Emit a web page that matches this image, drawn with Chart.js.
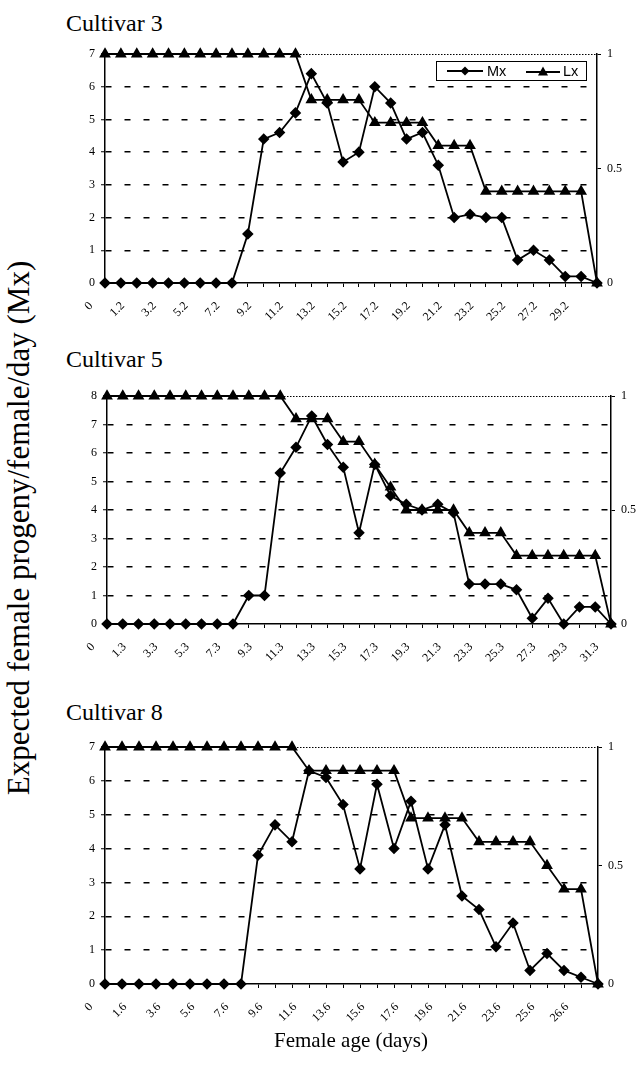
<!DOCTYPE html>
<html>
<head>
<meta charset="utf-8">
<script src="https://cdn.jsdelivr.net/npm/chart.js@4.4.1/dist/chart.umd.min.js"></script>
<style>
body { margin:0; background:#fff; width:641px; height:1077px; position:relative; overflow:hidden; font-family:"Liberation Serif", serif; color:#000; }
canvas { position:absolute; left:60px; }
.cult { position:absolute; left:66px; font-size:24px; line-height:24px; white-space:nowrap; }
.ytitle { position:absolute; left:18px; top:528px; transform:translate(-50%,-50%) rotate(-90deg); white-space:nowrap; font-size:31px; line-height:31px; }
.xtitle { position:absolute; left:351px; top:1040px; transform:translate(-50%,-50%); white-space:nowrap; font-size:21px; line-height:21px; }
#legend { position:absolute; left:436px; top:61px; width:149px; height:18px; border:1.5px solid #000; font-family:"Liberation Sans", sans-serif; font-size:14.5px; }
#legend svg, #legend span { position:absolute; }
</style>
</head>
<body>

<div class="cult" style="top:11px">Cultivar 3</div>
<canvas id="c3" width="581" height="300" style="top:40px"></canvas>

<div class="cult" style="top:347px">Cultivar 5</div>
<canvas id="c5" width="581" height="300" style="top:382px"></canvas>

<div class="cult" style="top:700px">Cultivar 8</div>
<canvas id="c8" width="581" height="300" style="top:733px"></canvas>

<div id="legend">
  <svg style="left:10px;top:3px" width="36" height="12"><line x1="0" y1="6" x2="36" y2="6" stroke="#000" stroke-width="1.8"/><polygon points="18,1.5 22.5,6 18,10.5 13.5,6" fill="#000"/></svg>
  <span style="left:50px;top:1px">Mx</span>
  <svg style="left:89px;top:3px" width="34" height="12"><line x1="0" y1="7" x2="34" y2="7" stroke="#000" stroke-width="1.8"/><polygon points="17,1.5 22,10.5 12,10.5" fill="#000"/></svg>
  <span style="left:126px;top:1px">Lx</span>
</div>

<div class="ytitle">Expected female progeny/female/day (Mx)</div>
<div class="xtitle">Female age (days)</div>

<script>
// Cultivar 3
var ages3 = ['0','0.2','1.2','2.2','3.2','4.2','5.2','6.2','7.2','8.2','9.2','10.2','11.2','12.2','13.2','14.2','15.2','16.2','17.2','18.2','19.2','20.2','21.2','22.2','23.2','24.2','25.2','26.2','27.2','28.2','29.2','30.2'];
var mx3 = [0,0,0,0,0,0,0,0,0,1.5,4.4,4.6,5.2,6.4,5.5,3.7,4.0,6.0,5.5,4.4,4.6,3.6,2.0,2.1,2.0,2.0,0.7,1.0,0.7,0.2,0.2,0];
var lx3 = [1,1,1,1,1,1,1,1,1,1,1,1,1,0.8,0.8,0.8,0.8,0.7,0.7,0.7,0.7,0.6,0.6,0.6,0.4,0.4,0.4,0.4,0.4,0.4,0.4,0];

// Cultivar 5
var ages5 = ['0','0.3','1.3','2.3','3.3','4.3','5.3','6.3','7.3','8.3','9.3','10.3','11.3','12.3','13.3','14.3','15.3','16.3','17.3','18.3','19.3','20.3','21.3','22.3','23.3','24.3','25.3','26.3','27.3','28.3','29.3','30.3','31.3'];
var mx5 = [0,0,0,0,0,0,0,0,0,1.0,1.0,5.3,6.2,7.3,6.3,5.5,3.2,5.6,4.5,4.2,4.0,4.2,3.9,1.4,1.4,1.4,1.2,0.2,0.9,0,0.6,0.6,0];
var lx5 = [1,1,1,1,1,1,1,1,1,1,1,1,0.9,0.9,0.9,0.8,0.8,0.7,0.6,0.5,0.5,0.5,0.5,0.4,0.4,0.4,0.3,0.3,0.3,0.3,0.3,0.3,0];

// Cultivar 8
var ages8 = ['0','0.6','1.6','2.6','3.6','4.6','5.6','6.6','7.6','8.6','9.6','10.6','11.6','12.6','13.6','14.6','15.6','16.6','17.6','18.6','19.6','20.6','21.6','22.6','23.6','24.6','25.6','26.1','26.6','27.6'];
var mx8 = [0,0,0,0,0,0,0,0,0,3.8,4.7,4.2,6.3,6.1,5.3,3.4,5.9,4.0,5.4,3.4,4.7,2.6,2.2,1.1,1.8,0.4,0.9,0.4,0.2,0];
var lx8 = [1,1,1,1,1,1,1,1,1,1,1,1,0.9,0.9,0.9,0.9,0.9,0.9,0.7,0.7,0.7,0.7,0.6,0.6,0.6,0.6,0.5,0.4,0.4,0];

var serif = 'Liberation Serif';

// dotted plot-area border along the top (Excel style)
var topBorder = {
    id: 'topBorder',
    beforeDatasetsDraw: function (chart) {
        var ctx = chart.ctx, a = chart.chartArea;
        ctx.save();
        ctx.strokeStyle = '#000';
        ctx.lineWidth = 1;
        ctx.setLineDash([1.5, 1.5]);
        ctx.beginPath();
        ctx.moveTo(a.left, a.top + 0.5);
        ctx.lineTo(a.right, a.top + 0.5);
        ctx.stroke();
        ctx.restore();
    }
};

function drawPanel(id, ages, mx, lx, yMax, yw, y2w, xh) {
    new Chart(document.getElementById(id), {
        type: 'line',
        data: {
            labels: ages,
            datasets: [{
                label: 'Mx',
                data: mx,
                yAxisID: 'y',
                borderColor: '#000',
                backgroundColor: '#000',
                borderWidth: 1.8,
                pointStyle: 'rectRot',
                pointRadius: 4.5,
                tension: 0,
                clip: false
            }, {
                label: 'Lx',
                data: lx,
                yAxisID: 'y2',
                borderColor: '#000',
                backgroundColor: '#000',
                borderWidth: 1.8,
                pointStyle: 'triangle',
                pointRadius: 5,
                tension: 0,
                clip: false
            }]
        },
        options: {
            responsive: false,
            animation: false,
            devicePixelRatio: 1,
            layout: { padding: { top: 14, left: 0, right: 0, bottom: 0 } },
            plugins: { legend: { display: false }, tooltip: { enabled: false } },
            scales: {
                x: {
                    offset: false,
                    grid: { drawOnChartArea: false, drawTicks: true, tickLength: 4, color: '#000', lineWidth: 1 },
                    border: { color: '#000', width: 1.5 },
                    ticks: {
                        autoSkip: false, minRotation: 45, maxRotation: 45,
                        padding: 12, labelOffset: -14,
                        color: '#000', font: { family: serif, size: 12 },
                        callback: function (v, i) { return i % 2 === 0 ? this.getLabelForValue(v) : ''; }
                    },
                    afterFit: function (s) { s.height = xh; }
                },
                y: {
                    position: 'left',
                    min: 0, max: yMax,
                    ticks: { stepSize: 1, padding: 6, color: '#000', font: { family: serif, size: 12 } },
                    grid: {
                        color: function (c) { return (c.tick && (c.tick.value === 0 || c.tick.value === yMax)) ? 'rgba(0,0,0,0)' : '#000'; },
                        lineWidth: 1.5, tickColor: '#000', tickLength: 4, tickWidth: 1
                    },
                    border: { color: '#000', width: 1.5, dash: [6, 13] },
                    afterFit: function (s) { s.width = yw; }
                },
                y2: {
                    position: 'right',
                    min: 0, max: 1,
                    ticks: {
                        stepSize: 0.5, padding: 6, color: '#000', font: { family: serif, size: 12 },
                        callback: function (v) { return String(v); }
                    },
                    grid: { drawOnChartArea: false, tickLength: 4, color: '#000' },
                    border: { color: '#000', width: 1.5 },
                    afterFit: function (s) { s.width = y2w; }
                }
            }
        },
        plugins: [topBorder]
    });
}

drawPanel('c3', ages3, mx3, lx3, 7, 45, 44, 57);
drawPanel('c5', ages5, mx5, lx5, 8, 47, 30, 58);
drawPanel('c8', ages8, mx8, lx8, 7, 45, 43, 49);
</script>
</body>
</html>
